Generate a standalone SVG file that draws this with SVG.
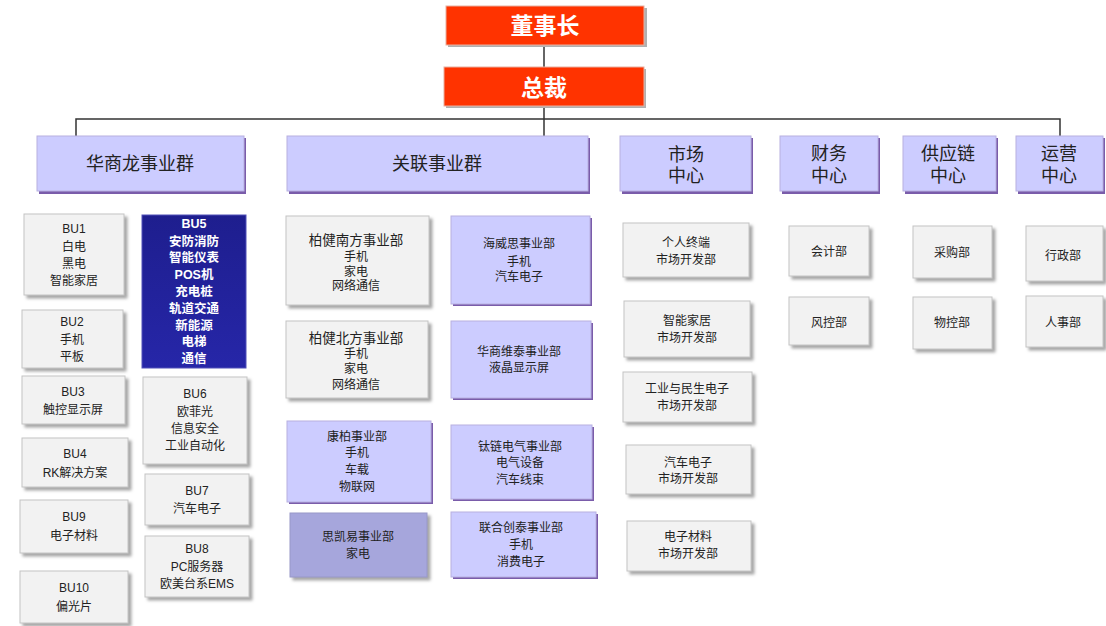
<svg xmlns="http://www.w3.org/2000/svg" width="1106" height="626" viewBox="0 0 1106 626">
<defs>
<filter id="sh" x="-10%" y="-10%" width="130%" height="140%">
<feDropShadow dx="3" dy="3" stdDeviation="1.5" flood-color="#808080" flood-opacity="0.7"/>
</filter>
<linearGradient id="bu5g" x1="0" y1="0" x2="0" y2="1">
<stop offset="0" stop-color="#1e1e8e"/>
<stop offset="1" stop-color="#2626a8"/>
</linearGradient>
</defs>
<style>
text{font-family:"Liberation Sans","Noto Sans CJK SC",sans-serif;text-anchor:middle;dominant-baseline:central;fill:#222}
.red{fill:#ff3300;stroke:#e8b0a0;stroke-width:1}
.redsh{fill:#b0b0b0}
.rt{font-size:23px;font-weight:bold;fill:#fff}
.grp{fill:#ccccff;stroke:#b8b0e0;stroke-width:1}
.grpsh{fill:#7a5caa}
.gt{font-size:18px;fill:#222}
.box{fill:#f2f2f2;stroke:#c4c4c4;stroke-width:1;filter:url(#sh)}
.pbox{fill:#ccccff;stroke:#b8b0e0;stroke-width:1}
.dbox{fill:#a6a6dc;stroke:#9898c8;stroke-width:1;filter:url(#sh)}
.st{font-size:12px}
.sb{font-size:13.5px}
.wt{font-size:12.5px;fill:#fff;font-weight:bold}
.ln{stroke:#333;stroke-width:1.5;fill:none}
</style>
<g id="connectors">
<path class="ln" d="M544 45 V67"/>
<path class="ln" d="M544 106 V136"/>
<path class="ln" d="M76 136 V119 H1060 V136"/>
</g>
<g id="chairman">
<rect class="redsh" x="448" y="8" width="199" height="39"/>
<rect class="red" x="446" y="6" width="198" height="39"/>
<text class="rt" x="545" y="26">董事长</text>
</g>
<g id="president">
<rect class="redsh" x="446" y="69" width="200" height="39"/>
<rect class="red" x="444" y="67" width="200" height="39"/>
<text class="rt" x="544" y="88">总裁</text>
</g>
<g id="g-hsl">
<rect class="grpsh" x="39" y="138" width="207" height="56"/>
<rect class="grp" x="37" y="136" width="207" height="55"/>
<text class="gt" x="140" y="164">华商龙事业群</text>
</g>
<g id="g-gl">
<rect class="grpsh" x="289" y="138" width="301" height="56"/>
<rect class="grp" x="287" y="136" width="301" height="55"/>
<text class="gt" x="437" y="164">关联事业群</text>
</g>
<g id="g-sc">
<rect class="grpsh" x="622" y="138" width="131" height="56"/>
<rect class="grp" x="620" y="136" width="131" height="55"/>
<text class="gt" x="686" y="155">市场</text>
<text class="gt" x="686" y="176">中心</text>
</g>
<g id="g-cw">
<rect class="grpsh" x="782" y="138" width="98" height="56"/>
<rect class="grp" x="780" y="136" width="98" height="55"/>
<text class="gt" x="829" y="154">财务</text>
<text class="gt" x="829" y="176">中心</text>
</g>
<g id="g-gyl">
<rect class="grpsh" x="905" y="138" width="93" height="56"/>
<rect class="grp" x="903" y="136" width="93" height="55"/>
<text class="gt" x="948" y="154">供应链</text>
<text class="gt" x="948" y="176">中心</text>
</g>
<g id="g-yy">
<rect class="grpsh" x="1018" y="138" width="87" height="56"/>
<rect class="grp" x="1016" y="136" width="87" height="55"/>
<text class="gt" x="1059" y="154">运营</text>
<text class="gt" x="1059" y="176">中心</text>
</g>
<g id="bu1">
<rect class="box" x="24" y="214" width="100" height="81"/>
<text class="st" x="74" y="229">BU1</text>
<text class="st" x="74" y="247">白电</text>
<text class="st" x="74" y="264">黑电</text>
<text class="st" x="74" y="281">智能家居</text>
</g>
<g id="bu2">
<rect class="box" x="22" y="310" width="101" height="58"/>
<text class="st" x="72" y="322">BU2</text>
<text class="st" x="72" y="340">手机</text>
<text class="st" x="72" y="357">平板</text>
</g>
<g id="bu3">
<rect class="box" x="22" y="376" width="103" height="48"/>
<text class="st" x="73" y="392">BU3</text>
<text class="st" x="73" y="410">触控显示屏</text>
</g>
<g id="bu4">
<rect class="box" x="22" y="438" width="106" height="49"/>
<text class="st" x="75" y="454">BU4</text>
<text class="st" x="75" y="473">RK解决方案</text>
</g>
<g id="bu9">
<rect class="box" x="20" y="500" width="108" height="53"/>
<text class="st" x="74" y="517">BU9</text>
<text class="st" x="74" y="536">电子材料</text>
</g>
<g id="bu10">
<rect class="box" x="20" y="571" width="108" height="52"/>
<text class="st" x="74" y="588">BU10</text>
<text class="st" x="74" y="607">偏光片</text>
</g>
<g id="bu5">
<rect x="142" y="215" width="104" height="153" fill="url(#bu5g)" stroke="#5050b8" stroke-width="1"/>
<text class="wt" x="194" y="224">BU5</text>
<text class="wt" x="194" y="242">安防消防</text>
<text class="wt" x="194" y="258">智能仪表</text>
<text class="wt" x="194" y="275">POS机</text>
<text class="wt" x="194" y="292">充电桩</text>
<text class="wt" x="194" y="309">轨道交通</text>
<text class="wt" x="194" y="326">新能源</text>
<text class="wt" x="194" y="342">电梯</text>
<text class="wt" x="194" y="359">通信</text>
</g>
<g id="bu6">
<rect class="box" x="143" y="377" width="104" height="87"/>
<text class="st" x="195" y="394">BU6</text>
<text class="st" x="195" y="412">欧菲光</text>
<text class="st" x="195" y="429">信息安全</text>
<text class="st" x="195" y="446">工业自动化</text>
</g>
<g id="bu7">
<rect class="box" x="145" y="474" width="104" height="51"/>
<text class="st" x="197" y="491">BU7</text>
<text class="st" x="197" y="509">汽车电子</text>
</g>
<g id="bu8">
<rect class="box" x="145" y="536" width="104" height="61"/>
<text class="st" x="197" y="549">BU8</text>
<text class="st" x="197" y="567">PC服务器</text>
<text class="st" x="197" y="584">欧美台系EMS</text>
</g>
<g id="bjnf">
<rect class="box" x="286" y="216" width="143" height="89"/>
<text class="sb" x="356" y="240">柏健南方事业部</text>
<text class="st" x="356" y="257">手机</text>
<text class="st" x="356" y="272">家电</text>
<text class="st" x="356" y="286">网络通信</text>
</g>
<g id="bjbf">
<rect class="box" x="286" y="321" width="142" height="77"/>
<text class="sb" x="356" y="338">柏健北方事业部</text>
<text class="st" x="356" y="354">手机</text>
<text class="st" x="356" y="369">家电</text>
<text class="st" x="356" y="385">网络通信</text>
</g>
<g id="kb">
<rect class="grpsh" x="289" y="423" width="144" height="81"/>
<rect class="pbox" x="287" y="421" width="144" height="81"/>
<text class="st" x="357" y="437">康柏事业部</text>
<text class="st" x="357" y="453">手机</text>
<text class="st" x="357" y="470">车载</text>
<text class="st" x="357" y="487">物联网</text>
</g>
<g id="sky">
<rect class="dbox" x="290" y="513" width="137" height="64"/>
<text class="st" x="358" y="537">思凯易事业部</text>
<text class="st" x="358" y="554">家电</text>
</g>
<g id="hws">
<rect class="grpsh" x="453" y="218" width="139" height="88"/>
<rect class="pbox" x="451" y="216" width="139" height="88"/>
<text class="st" x="519" y="244">海威思事业部</text>
<text class="st" x="519" y="262">手机</text>
<text class="st" x="519" y="277">汽车电子</text>
</g>
<g id="hswt">
<rect class="grpsh" x="453" y="323" width="140" height="77"/>
<rect class="pbox" x="451" y="321" width="140" height="77"/>
<text class="st" x="519" y="352">华商维泰事业部</text>
<text class="st" x="519" y="368">液晶显示屏</text>
</g>
<g id="tl">
<rect class="grpsh" x="453" y="427" width="141" height="74"/>
<rect class="pbox" x="451" y="425" width="141" height="74"/>
<text class="st" x="520" y="447">钛链电气事业部</text>
<text class="st" x="520" y="463">电气设备</text>
<text class="st" x="520" y="480">汽车线束</text>
</g>
<g id="lhct">
<rect class="grpsh" x="453" y="514" width="145" height="65"/>
<rect class="pbox" x="451" y="512" width="145" height="65"/>
<text class="st" x="521" y="528">联合创泰事业部</text>
<text class="st" x="521" y="545">手机</text>
<text class="st" x="521" y="562">消费电子</text>
</g>
<g id="m1">
<rect class="box" x="623" y="223" width="126" height="54"/>
<text class="st" x="686" y="243">个人终端</text>
<text class="st" x="686" y="260">市场开发部</text>
</g>
<g id="m2">
<rect class="box" x="624" y="301" width="126" height="56"/>
<text class="st" x="687" y="321">智能家居</text>
<text class="st" x="687" y="338">市场开发部</text>
</g>
<g id="m3">
<rect class="box" x="623" y="372" width="129" height="50"/>
<text class="st" x="687" y="389">工业与民生电子</text>
<text class="st" x="687" y="406">市场开发部</text>
</g>
<g id="m4">
<rect class="box" x="626" y="445" width="125" height="49"/>
<text class="st" x="688" y="463">汽车电子</text>
<text class="st" x="688" y="479">市场开发部</text>
</g>
<g id="m5">
<rect class="box" x="627" y="521" width="124" height="50"/>
<text class="st" x="688" y="537">电子材料</text>
<text class="st" x="688" y="554">市场开发部</text>
</g>
<g id="kj">
<rect class="box" x="789" y="226" width="80" height="50"/>
<text class="st" x="829" y="252">会计部</text>
</g>
<g id="fk">
<rect class="box" x="789" y="297" width="80" height="48"/>
<text class="st" x="829" y="323">风控部</text>
</g>
<g id="cg">
<rect class="box" x="913" y="226" width="79" height="52"/>
<text class="st" x="952" y="253">采购部</text>
</g>
<g id="wk">
<rect class="box" x="913" y="297" width="79" height="52"/>
<text class="st" x="952" y="323">物控部</text>
</g>
<g id="xz">
<rect class="box" x="1026" y="226" width="77" height="55"/>
<text class="st" x="1063" y="256">行政部</text>
</g>
<g id="rs">
<rect class="box" x="1026" y="296" width="77" height="51"/>
<text class="st" x="1063" y="323">人事部</text>
</g>
</svg>
